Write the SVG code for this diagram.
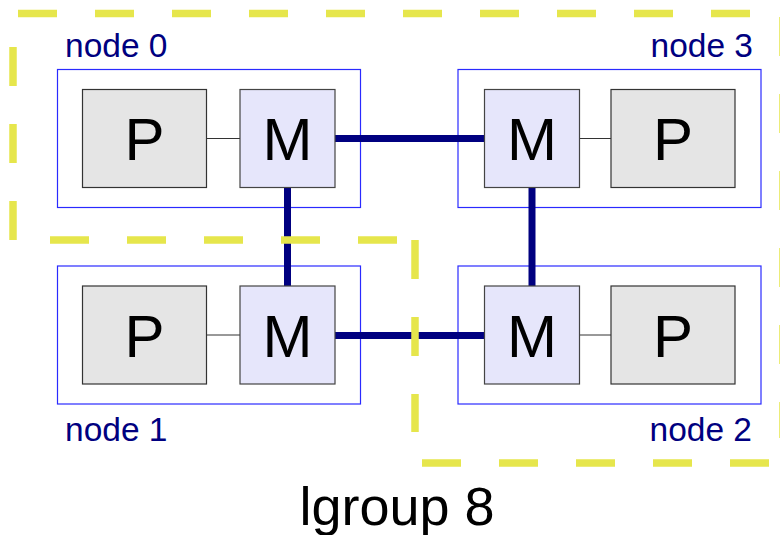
<svg xmlns="http://www.w3.org/2000/svg" width="780" height="535" viewBox="0 0 780 535">
<style>
.grp{stroke:#e6e64c;stroke-width:7.5;stroke-dasharray:39 38;fill:none}
.outer{fill:#fff;stroke:#2a2aff;stroke-width:1.2}
.p{fill:#e5e5e5;stroke:#333;stroke-width:1.2}
.m{fill:#e6e6fb;stroke:#444;stroke-width:1.2}
.thin{stroke:#333;stroke-width:1}
.link{stroke:#000080;stroke-width:7;fill:none}
.big{font-family:"Liberation Sans",Arial,sans-serif;font-size:60px;fill:#000;text-anchor:middle}
.lbl{font-family:"Liberation Sans",Arial,sans-serif;font-size:33.5px;fill:#000080}
.title{font-family:"Liberation Sans",Arial,sans-serif;font-size:54px;fill:#000;text-anchor:middle}
</style>
<g id="node0">
<rect class="outer" x="57.5" y="69.5" width="303" height="138"/>
<text class="lbl" x="65" y="57">node 0</text>
</g>
<g id="node3">
<rect class="outer" x="458" y="69.5" width="303" height="138"/>
<text class="lbl" x="753" y="57" text-anchor="end">node 3</text>
</g>
<g id="node1">
<rect class="outer" x="57.5" y="266" width="303" height="138"/>
<text class="lbl" x="65" y="441">node 1</text>
</g>
<g id="node2">
<rect class="outer" x="458" y="266" width="303" height="138"/>
<text class="lbl" x="752" y="441" text-anchor="end">node 2</text>
</g>
<g id="connectors">
<line class="thin" x1="207" y1="138.5" x2="240" y2="138.5"/>
<line class="thin" x1="579" y1="138.5" x2="611" y2="138.5"/>
<line class="thin" x1="207" y1="335" x2="240" y2="335"/>
<line class="thin" x1="579" y1="335" x2="611" y2="335"/>
<line class="link" x1="335" y1="138.5" x2="484" y2="138.5"/>
<line class="link" x1="287.5" y1="188" x2="287.5" y2="286"/>
<line class="link" x1="532" y1="188" x2="532" y2="286"/>
<line class="link" x1="335" y1="335.5" x2="484" y2="335.5"/>
</g>
<g id="p0"><rect class="p" x="82.5" y="89.5" width="124" height="98"/><text class="big" x="144.5" y="160">P</text></g>
<g id="m0"><rect class="m" x="240" y="89.5" width="95" height="98"/><text class="big" x="287.5" y="160">M</text></g>
<g id="m3"><rect class="m" x="484.5" y="89.5" width="95" height="98"/><text class="big" x="532" y="160">M</text></g>
<g id="p3"><rect class="p" x="611" y="89.5" width="124" height="98"/><text class="big" x="673" y="160">P</text></g>
<g id="p1"><rect class="p" x="82.5" y="286" width="124" height="98"/><text class="big" x="144.5" y="356.5">P</text></g>
<g id="m1"><rect class="m" x="240" y="286" width="95" height="98"/><text class="big" x="287.5" y="356.5">M</text></g>
<g id="m2"><rect class="m" x="484.5" y="286" width="95" height="98"/><text class="big" x="532" y="356.5">M</text></g>
<g id="p2"><rect class="p" x="611" y="286" width="124" height="98"/><text class="big" x="673" y="356.5">P</text></g>
<g id="lgroup-boundary">
<line class="grp" x1="18" y1="13.5" x2="782" y2="13.5"/>
<line class="grp" x1="13" y1="240" x2="13" y2="47"/>
<line class="grp" x1="50" y1="240" x2="397" y2="240"/>
<line class="grp" x1="415" y1="240" x2="415" y2="432"/>
<line class="grp" x1="422" y1="463" x2="769" y2="463"/>
<line class="grp" x1="783" y1="17" x2="783" y2="438"/>
</g>
<text class="title" x="397" y="525">lgroup 8</text>
</svg>
